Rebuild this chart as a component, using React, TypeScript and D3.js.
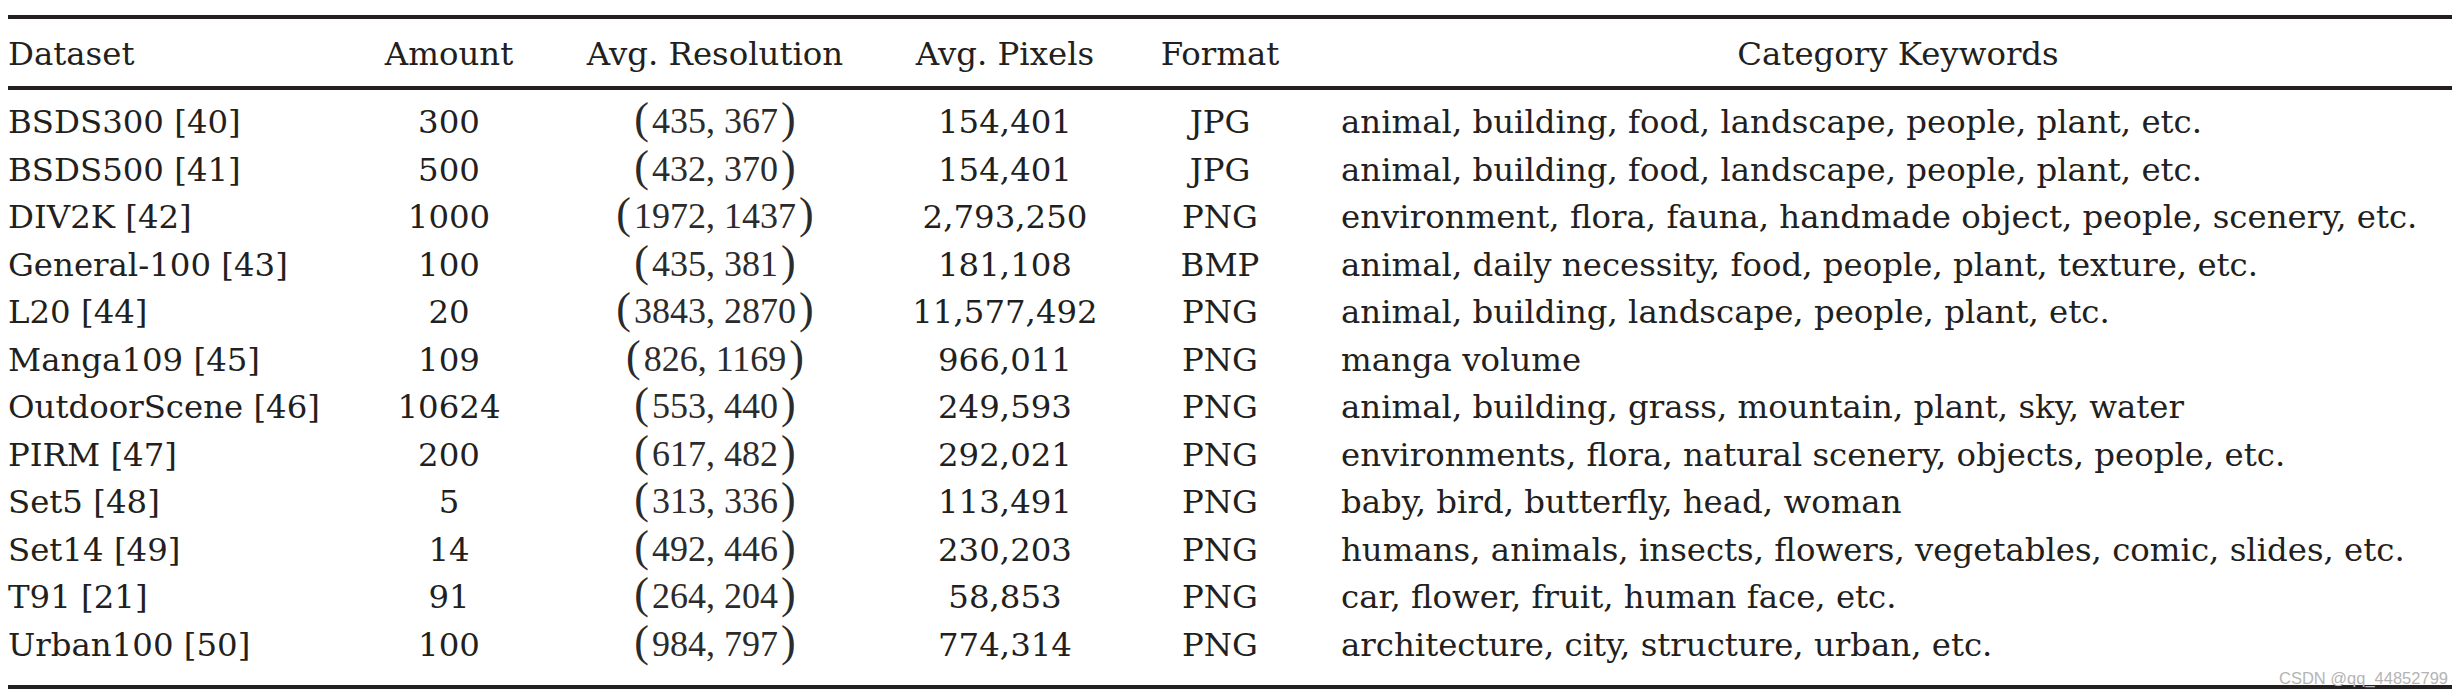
import React from "react";
import * as d3 from "d3";

const headers = ["Dataset", "Amount", "Avg. Resolution", "Avg. Pixels", "Format", "Category Keywords"];
const datasets = [
  "BSDS300 [40]", "BSDS500 [41]", "DIV2K [42]", "General-100 [43]", "L20 [44]", "Manga109 [45]",
  "OutdoorScene [46]", "PIRM [47]", "Set5 [48]", "Set14 [49]", "T91 [21]", "Urban100 [50]",
];
const amounts = ["300", "500", "1000", "100", "20", "109", "10624", "200", "5", "14", "91", "100"];
const resW = [435, 432, 1972, 435, 3843, 826, 553, 617, 313, 492, 264, 984];
const resH = [367, 370, 1437, 381, 2870, 1169, 440, 482, 336, 446, 204, 797];
const pixels = [
  "154,401", "154,401", "2,793,250", "181,108", "11,577,492", "966,011",
  "249,593", "292,021", "113,491", "230,203", "58,853", "774,314",
];
const formats = ["JPG", "JPG", "PNG", "BMP", "PNG", "PNG", "PNG", "PNG", "PNG", "PNG", "PNG", "PNG"];
const keywords = [
  "animal, building, food, landscape, people, plant, etc.",
  "animal, building, food, landscape, people, plant, etc.",
  "environment, flora, fauna, handmade object, people, scenery, etc.",
  "animal, daily necessity, food, people, plant, texture, etc.",
  "animal, building, landscape, people, plant, etc.",
  "manga volume",
  "animal, building, grass, mountain, plant, sky, water",
  "environments, flora, natural scenery, objects, people, etc.",
  "baby, bird, butterfly, head, woman",
  "humans, animals, insects, flowers, vegetables, comic, slides, etc.",
  "car, flower, fruit, human face, etc.",
  "architecture, city, structure, urban, etc.",
];

const W = 2463;
const H = 698;
const INK = "#231f20";
const FONT = "'DejaVu Serif', serif";
const FS = 32.4;

export default function App() {
  const y = d3.scaleLinear().domain([0, datasets.length - 1]).range([133, 656]);
  const colX = [8, 449, 715, 1005, 1220, 1341];
  const headerX = [8, 449, 715, 1005, 1220, 1898];
  const anchors = ["start", "middle", "middle", "middle", "middle", "middle"];
  const ruleX0 = 8;
  const ruleX1 = 2452;
  const rules = [17, 88, 687];

  return (
    <svg
      width={W}
      height={H}
      viewBox={`0 0 ${W} ${H}`}
      style={{ position: "absolute", left: 0, top: 0, background: "#fff" }}
    >
      <rect x={0} y={0} width={W} height={H} fill="#fff" />
      {rules.map((ry, i) => (
        <line key={i} x1={ruleX0} x2={ruleX1} y1={ry} y2={ry} stroke={INK} strokeWidth={3.8} />
      ))}
      <g fill={INK} fontFamily={FONT} fontSize={FS}>
        {headers.map((h, i) => (
          <text key={h} x={headerX[i]} y={65} textAnchor={anchors[i]}>
            {h}
          </text>
        ))}
        {datasets.map((d, i) => (
          <g key={d}>
            <text x={colX[0]} y={y(i)}>{d}</text>
            <text x={colX[1]} y={y(i)} textAnchor="middle">{amounts[i]}</text>
            <text
              x={colX[2]}
              y={y(i)}
              textAnchor="middle"
              fontFamily="'Liberation Serif', serif"
              fontSize={36}
              fill="#2b2b2b"
            >
              <tspan fontSize={44}>(</tspan>
              <tspan dx={3}>{`${resW[i]}, ${resH[i]}`}</tspan>
              <tspan dx={3} fontSize={44}>)</tspan>
            </text>
            <text x={colX[3]} y={y(i)} textAnchor="middle">{pixels[i]}</text>
            <text x={colX[4]} y={y(i)} textAnchor="middle">{formats[i]}</text>
            <text x={colX[5]} y={y(i)}>{keywords[i]}</text>
          </g>
        ))}
      </g>
      <text
        x={2448}
        y={684}
        textAnchor="end"
        fontFamily="'Liberation Sans', Arial, sans-serif"
        fontSize={16.5}
        fill="#b4b4b4"
      >
        CSDN @qq_44852799
      </text>
    </svg>
  );
}
